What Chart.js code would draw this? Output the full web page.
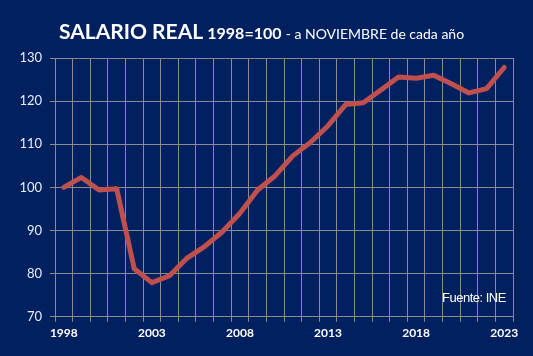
<!DOCTYPE html>
<html>
<head>
<meta charset="utf-8">
<script src="https://cdn.jsdelivr.net/npm/chart.js@4/dist/chart.umd.min.js"></script>
<style>
  html, body { margin:0; padding:0; background:#002060; }
  #wrap { position:relative; width:533px; height:356px; background:#002060; overflow:hidden; }
  #title { position:absolute; left:59px; top:18px; color:#fff; font-family:Lato, "Open Sans", sans-serif; white-space:nowrap; }
  #title .a { font-weight:bold; font-size:21px; }
  #title .b { font-weight:bold; font-size:16px; }
  #title .c { font-size:14px; }
  #src { position:absolute; left:442px; top:290px; color:#fff; font-family:"Liberation Sans Narrow", "Liberation Sans", sans-serif; font-size:13px; letter-spacing:-0.5px; }
  canvas { position:absolute; left:0; top:0; }
</style>
</head>
<body>
<div id="wrap">
  <canvas id="c" width="533" height="356"></canvas>
  <div id="title"><span class="a">SALARIO REAL</span> <span class="b">1998=100</span> <span class="c">- a NOVIEMBRE de cada año</span></div>
  <div id="src">Fuente: INE</div>
</div>
<script>
const years = ["1998","1999","2000","2001","2002","2003","2004","2005","2006","2007","2008","2009","2010","2011","2012","2013","2014","2015","2016","2017","2018","2019","2020","2021","2022","2023"];
const salarioReal = [100, 102.3, 99.4, 99.7, 81.1, 77.9, 79.5, 83.6, 86.3, 89.7, 94.0, 99.4, 102.7, 107.3, 110.4, 114.3, 119.2, 119.6, 122.6, 125.6, 125.3, 126.0, 124.0, 121.9, 122.9, 127.8];
const shownLabels = ["1998","2003","2008","2013","2018","2023"];

new Chart(document.getElementById('c'), {
  type: 'line',
  data: {
    labels: years,
    datasets: [{
      data: salarioReal,
      borderColor: '#C0504D',
      borderWidth: 5,
      borderJoinStyle: 'round',
      borderCapStyle: 'round',
      pointRadius: 0,
      tension: 0,
      fill: false
    }]
  },
  options: {
    responsive: false,
    animation: false,
    layout: { padding: { left: 0, right: 20, top: 58, bottom: 0 } },
    plugins: { legend: { display: false }, tooltip: { enabled: false } },
    scales: {
      x: {
        offset: true,
        grid: { offset: true, color: '#8C8C8C', lineWidth: 1, tickLength: 5, drawTicks: true },
        border: { color: '#8C8C8C' },
        ticks: {
          autoSkip: false, maxRotation: 0, padding: 4,
          color: '#FFFFFF',
          font: { family: 'Lato, "Open Sans", sans-serif', size: 12, weight: 'bold' },
          callback: function(v, i) { const l = this.getLabelForValue(v); return shownLabels.includes(l) ? l : ''; }
        },
        afterFit: s => { s.height = 39.3; }
      },
      y: {
        min: 70, max: 130,
        grid: { color: '#8C8C8C', lineWidth: 1, tickLength: 5 },
        border: { color: '#8C8C8C' },
        ticks: {
          stepSize: 10, padding: 8,
          color: '#E6EEFA',
          font: { family: 'Lato, "Open Sans", sans-serif', size: 13 }
        },
        afterFit: s => { s.width = 55; }
      }
    }
  }
});
</script>
</body>
</html>
